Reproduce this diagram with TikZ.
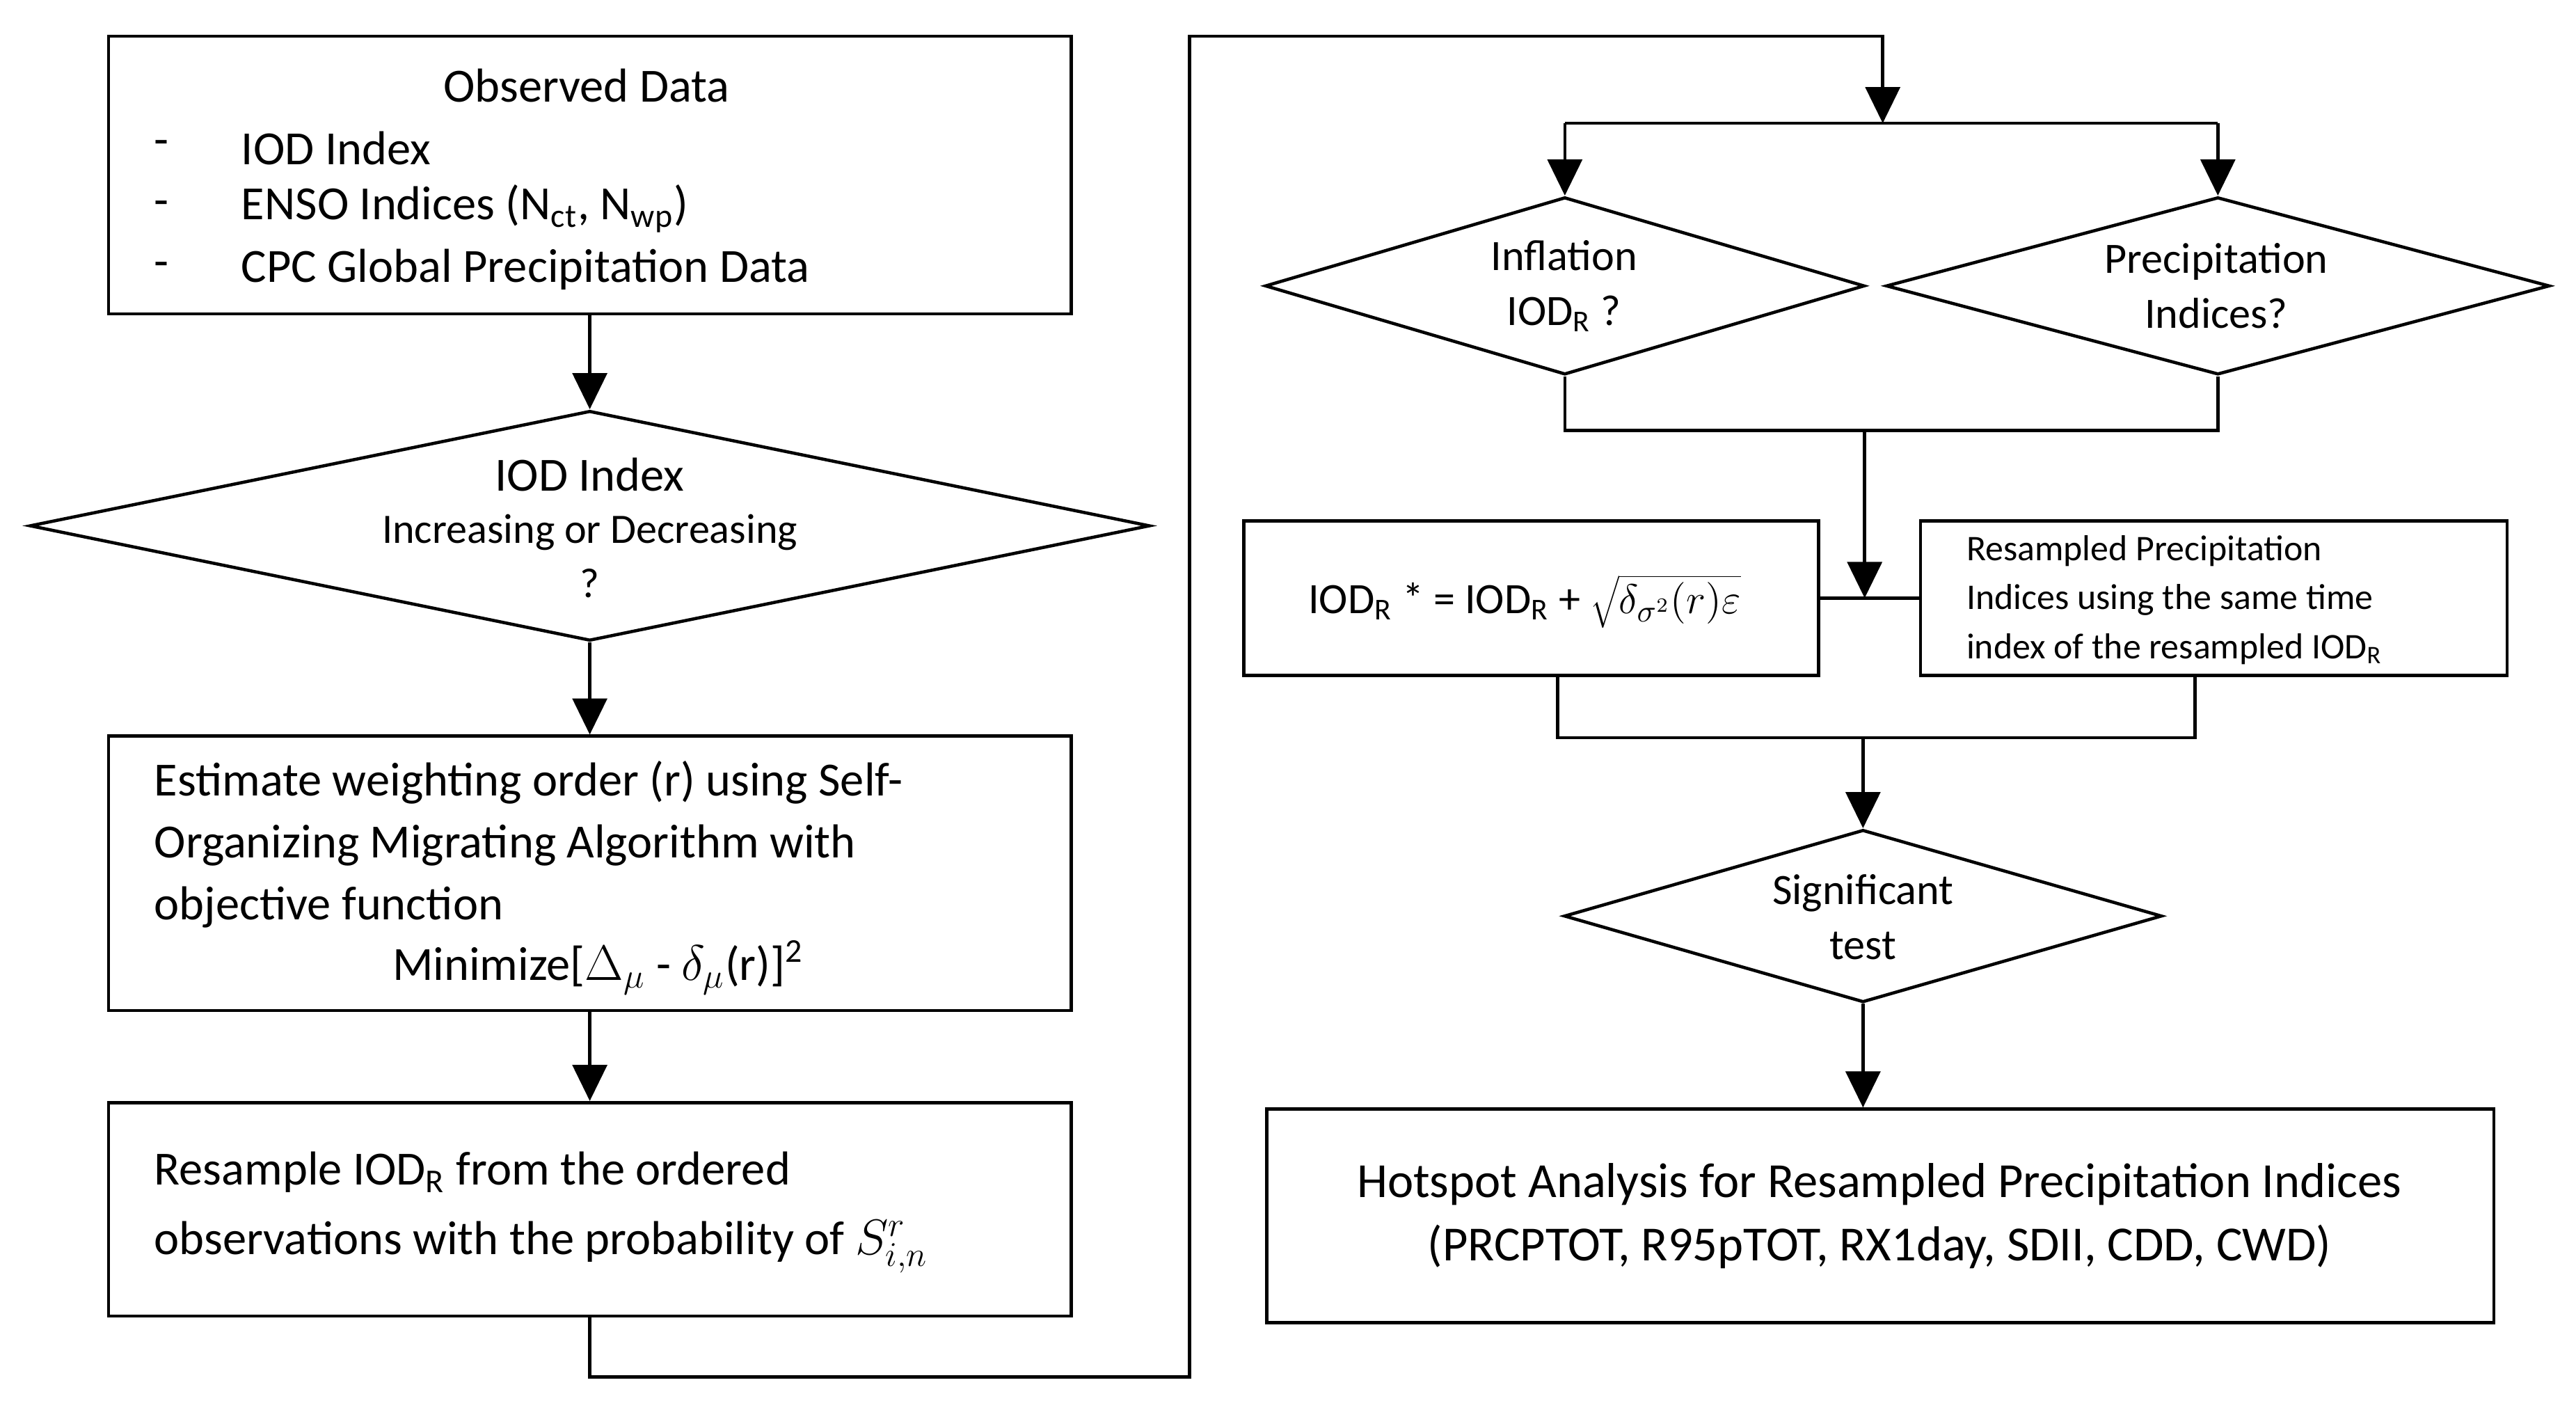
\documentclass[tikz,border=0pt]{standalone}
\usepackage{fontspec}
\setmainfont{Carlito}
\usetikzlibrary{shapes.geometric,arrows.meta}
\begin{document}
\begin{tikzpicture}[x=0.02cm,y=-0.02cm,line width=1.1pt,
  box/.style={draw,rectangle,inner sep=0pt},
  dia/.style={draw,diamond,inner sep=0pt},
  t/.style={inner sep=0pt,font=\fontsize{16.5}{21.5}\selectfont},
  ts/.style={inner sep=0pt,font=\fontsize{12.5}{17}\selectfont},
  arr/.style={-{Triangle[length=0.44cm,width=0.42cm]}}]
\useasboundingbox[fill=white] (0,0) rectangle (1568,858);
% shapes
\node[box,minimum width=11.72cm,minimum height=3.38cm] (obs) at (359,106.5) {};
\node[dia,minimum width=13.64cm,minimum height=2.8cm] (iod) at (359,320) {};
\node[box,minimum width=11.72cm,minimum height=3.34cm] (est) at (359,531.5) {};
\node[box,minimum width=11.72cm,minimum height=2.6cm] (res) at (359,736) {};
\node[dia,minimum width=7.3cm,minimum height=2.16cm] (infl) at (952.5,174) {};
\node[dia,minimum width=8.08cm,minimum height=2.16cm] (prec) at (1350,174) {};
\node[box,minimum width=7.0cm,minimum height=1.88cm] (iodr) at (932,364) {};
\node[box,minimum width=7.14cm,minimum height=1.88cm] (rsp) at (1347.5,364) {};
\node[dia,minimum width=7.28cm,minimum height=2.1cm] (sig) at (1134,557.5) {};
\node[box,minimum width=14.94cm,minimum height=2.6cm] (hot) at (1144.5,740) {};
% texts
\node[t] (obsT) at (357,52) {Observed Data};
\node[t,anchor=west] (d1) at (93,90) {-};
\node[t,anchor=west] (d2) at (93,127) {-};
\node[t,anchor=west] (d3) at (93,164) {-};
\node[t,anchor=west] (o1) at (146,90) {IOD Index};
\node[t,anchor=west] (o2) at (146,127) {ENSO Indices (N\textsubscript{ct}, N\textsubscript{wp})};
\node[t,anchor=west] (o3) at (146,164) {CPC Global Precipitation Data};
\node[t] (iodT1) at (359,289) {IOD Index};
\node[t,font=\fontsize{14.5}{18}\selectfont] (iodT2) at (359,324) {Increasing or Decreasing};
\node[t,font=\fontsize{14.5}{18}\selectfont] (iodT3) at (359,355) {?};
\node[t,anchor=north west,align=left] (estT) at (93,462) {Estimate weighting order (r) using Self-\\Organizing Migrating Algorithm with\\objective function};
\node[t] (estM) at (364,589) {Minimize[$\Delta_\mu$ - $\delta_\mu$(r)]\textsuperscript{2}};
\node[t,anchor=north west,align=left,font=\fontsize{16.5}{24}\selectfont] (resT) at (93,700) {Resample IOD\textsubscript{R} from the ordered\\observations with the probability of $S^{r}_{i,n}$};
\node[t,align=center,font=\fontsize{15}{19}\selectfont] (inflT) at (952,174) {Inflation\\IOD\textsubscript{R} ?};
\node[t,align=center,font=\fontsize{15}{19}\selectfont] (precT) at (1349,174) {Precipitation\\Indices?};
\node[t,font=\fontsize{15}{18}\selectfont] (iodrT) at (928,366) {IOD\textsubscript{R} * = IOD\textsubscript{R} + $\sqrt{\delta_{\sigma^2}(r)\varepsilon}$};
\node[ts,anchor=west,align=left] (rspT) at (1196,365) {Resampled Precipitation\\Indices using the same time\\index of the resampled IOD\textsubscript{R}};
\node[t,align=center,font=\fontsize{15}{19}\selectfont] (sigT) at (1134,558) {Significant\\test};
\node[t,align=center,font=\fontsize{17}{22}\selectfont] (hotT) at (1144,740) {Hotspot Analysis for Resampled Precipitation Indices\\(PRCPTOT, R95pTOT, RX1day, SDII, CDD, CWD)};
% connectors
\draw[arr] (obs.south) -- (iod.north);
\draw[arr] (iod.south) -- (est.north);
\draw[arr] (est.south) -- (res.north);
\coordinate (top) at (1146,75);
\draw[arr] (res.south) -- (359,838) -- (724,838) -- (724,22) -- (1146,22) -- (top);
\draw (infl.north|-top) -- (prec.north|-top);
\draw[arr] (infl.north|-top) -- (infl.north);
\draw[arr] (prec.north|-top) -- (prec.north);
\coordinate (j1) at (1135,262);
\coordinate (j2) at (1135,364);
\draw (infl.south) -- (infl.south|-j1) -- (prec.south|-j1) -- (prec.south);
\draw[arr] (j1) -- (j2);
\draw (iodr.east) -- (rsp.west);
\coordinate (b1) at (948,411);
\coordinate (b2) at (1336,411);
\coordinate (j3) at (1134,449);
\draw (b1) -- (b1|-j3) -- (b2|-j3) -- (b2);
\draw[arr] (j3) -- (sig.north);
\draw[arr] (sig.south) -- (sig.south|-hot.north);
\end{tikzpicture}
\end{document}
